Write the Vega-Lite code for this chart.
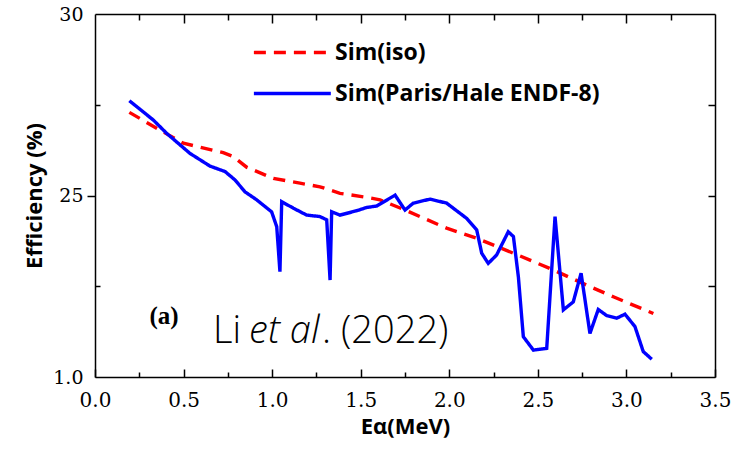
{
  "$schema": "https://vega.github.io/schema/vega-lite/v6.json",
  "autosize": "none",
  "width": 620,
  "height": 363,
  "padding": {"left": 95, "top": 14, "right": 35, "bottom": 75},
  "background": "white",
  "config": {
    "view": {"stroke": null},
    "axis": {"grid": false, "domainColor": "black", "domainWidth": 1.5, "tickColor": "black", "tickWidth": 1.5, "labelColor": "black", "titleColor": "black"}
  },
  "datasets": {
    "lines": [
      {"E": 0.194, "eff": 27.29, "series": "Sim(iso)"},
      {"E": 0.367, "eff": 26.80, "series": "Sim(iso)"},
      {"E": 0.499, "eff": 26.44, "series": "Sim(iso)"},
      {"E": 0.724, "eff": 26.18, "series": "Sim(iso)"},
      {"E": 0.781, "eff": 26.07, "series": "Sim(iso)"},
      {"E": 0.856, "eff": 25.78, "series": "Sim(iso)"},
      {"E": 1.007, "eff": 25.47, "series": "Sim(iso)"},
      {"E": 1.157, "eff": 25.34, "series": "Sim(iso)"},
      {"E": 1.27, "eff": 25.24, "series": "Sim(iso)"},
      {"E": 1.383, "eff": 25.06, "series": "Sim(iso)"},
      {"E": 1.534, "eff": 24.95, "series": "Sim(iso)"},
      {"E": 1.609, "eff": 24.88, "series": "Sim(iso)"},
      {"E": 1.75, "eff": 24.60, "series": "Sim(iso)"},
      {"E": 1.985, "eff": 24.10, "series": "Sim(iso)"},
      {"E": 2.155, "eff": 23.82, "series": "Sim(iso)"},
      {"E": 2.362, "eff": 23.41, "series": "Sim(iso)"},
      {"E": 2.587, "eff": 22.95, "series": "Sim(iso)"},
      {"E": 2.776, "eff": 22.53, "series": "Sim(iso)"},
      {"E": 2.926, "eff": 22.21, "series": "Sim(iso)"},
      {"E": 3.152, "eff": 21.75, "series": "Sim(iso)"},
      {"E": 0.194, "eff": 27.61, "series": "Sim(Paris/Hale ENDF-8)"},
      {"E": 0.329, "eff": 27.08, "series": "Sim(Paris/Hale ENDF-8)"},
      {"E": 0.405, "eff": 26.71, "series": "Sim(Paris/Hale ENDF-8)"},
      {"E": 0.536, "eff": 26.16, "series": "Sim(Paris/Hale ENDF-8)"},
      {"E": 0.649, "eff": 25.81, "series": "Sim(Paris/Hale ENDF-8)"},
      {"E": 0.734, "eff": 25.66, "series": "Sim(Paris/Hale ENDF-8)"},
      {"E": 0.790, "eff": 25.43, "series": "Sim(Paris/Hale ENDF-8)"},
      {"E": 0.847, "eff": 25.10, "series": "Sim(Paris/Hale ENDF-8)"},
      {"E": 0.913, "eff": 24.88, "series": "Sim(Paris/Hale ENDF-8)"},
      {"E": 0.997, "eff": 24.55, "series": "Sim(Paris/Hale ENDF-8)"},
      {"E": 1.026, "eff": 24.14, "series": "Sim(Paris/Hale ENDF-8)"},
      {"E": 1.044, "eff": 22.90, "series": "Sim(Paris/Hale ENDF-8)"},
      {"E": 1.054, "eff": 24.83, "series": "Sim(Paris/Hale ENDF-8)"},
      {"E": 1.12, "eff": 24.65, "series": "Sim(Paris/Hale ENDF-8)"},
      {"E": 1.195, "eff": 24.46, "series": "Sim(Paris/Hale ENDF-8)"},
      {"E": 1.27, "eff": 24.42, "series": "Sim(Paris/Hale ENDF-8)"},
      {"E": 1.308, "eff": 24.33, "series": "Sim(Paris/Hale ENDF-8)"},
      {"E": 1.327, "eff": 22.67, "series": "Sim(Paris/Hale ENDF-8)"},
      {"E": 1.336, "eff": 24.55, "series": "Sim(Paris/Hale ENDF-8)"},
      {"E": 1.383, "eff": 24.46, "series": "Sim(Paris/Hale ENDF-8)"},
      {"E": 1.477, "eff": 24.58, "series": "Sim(Paris/Hale ENDF-8)"},
      {"E": 1.534, "eff": 24.67, "series": "Sim(Paris/Hale ENDF-8)"},
      {"E": 1.59, "eff": 24.71, "series": "Sim(Paris/Hale ENDF-8)"},
      {"E": 1.694, "eff": 25.01, "series": "Sim(Paris/Hale ENDF-8)"},
      {"E": 1.75, "eff": 24.60, "series": "Sim(Paris/Hale ENDF-8)"},
      {"E": 1.797, "eff": 24.79, "series": "Sim(Paris/Hale ENDF-8)"},
      {"E": 1.891, "eff": 24.90, "series": "Sim(Paris/Hale ENDF-8)"},
      {"E": 1.985, "eff": 24.79, "series": "Sim(Paris/Hale ENDF-8)"},
      {"E": 2.098, "eff": 24.37, "series": "Sim(Paris/Hale ENDF-8)"},
      {"E": 2.155, "eff": 24.05, "series": "Sim(Paris/Hale ENDF-8)"},
      {"E": 2.183, "eff": 23.41, "series": "Sim(Paris/Hale ENDF-8)"},
      {"E": 2.220, "eff": 23.13, "series": "Sim(Paris/Hale ENDF-8)"},
      {"E": 2.267, "eff": 23.36, "series": "Sim(Paris/Hale ENDF-8)"},
      {"E": 2.333, "eff": 24.00, "series": "Sim(Paris/Hale ENDF-8)"},
      {"E": 2.362, "eff": 23.87, "series": "Sim(Paris/Hale ENDF-8)"},
      {"E": 2.39, "eff": 22.76, "series": "Sim(Paris/Hale ENDF-8)"},
      {"E": 2.418, "eff": 21.11, "series": "Sim(Paris/Hale ENDF-8)"},
      {"E": 2.475, "eff": 20.74, "series": "Sim(Paris/Hale ENDF-8)"},
      {"E": 2.55, "eff": 20.79, "series": "Sim(Paris/Hale ENDF-8)"},
      {"E": 2.597, "eff": 24.42, "series": "Sim(Paris/Hale ENDF-8)"},
      {"E": 2.644, "eff": 21.85, "series": "Sim(Paris/Hale ENDF-8)"},
      {"E": 2.70, "eff": 22.07, "series": "Sim(Paris/Hale ENDF-8)"},
      {"E": 2.744, "eff": 22.86, "series": "Sim(Paris/Hale ENDF-8)"},
      {"E": 2.794, "eff": 21.20, "series": "Sim(Paris/Hale ENDF-8)"},
      {"E": 2.841, "eff": 21.86, "series": "Sim(Paris/Hale ENDF-8)"},
      {"E": 2.889, "eff": 21.69, "series": "Sim(Paris/Hale ENDF-8)"},
      {"E": 2.945, "eff": 21.62, "series": "Sim(Paris/Hale ENDF-8)"},
      {"E": 2.992, "eff": 21.73, "series": "Sim(Paris/Hale ENDF-8)"},
      {"E": 3.048, "eff": 21.39, "series": "Sim(Paris/Hale ENDF-8)"},
      {"E": 3.095, "eff": 20.70, "series": "Sim(Paris/Hale ENDF-8)"},
      {"E": 3.143, "eff": 20.49, "series": "Sim(Paris/Hale ENDF-8)"}
    ]
  },
  "data": {"name": "lines"},
  "resolve": {"axis": {"x": "independent", "y": "independent"}},
  "layer": [
    {
      "mark": {"type": "line", "strokeWidth": 3.4},
      "encoding": {
        "x": {"field": "E", "type": "quantitative",
          "scale": {"domain": [0, 3.5], "nice": false, "zero": false},
          "axis": {"orient": "bottom", "values": [0, 0.5, 1, 1.5, 2, 2.5, 3, 3.5], "format": ".1f", "tickSize": -8, "labelPadding": 21,
            "labelFont": "DejaVu Serif", "labelFontSize": 20, "labelFlush": false,
            "title": "Eα(MeV)", "titleFont": "Open Sans", "titleFontSize": 22, "titleFontWeight": "bold", "titlePadding": 6}},
        "y": {"field": "eff", "type": "quantitative",
          "scale": {"domain": [20, 30], "nice": false, "zero": false},
          "axis": {"orient": "left", "values": [20, 25, 30], "labelExpr": "datum.value == 20 ? '1.0' : datum.label",
            "tickSize": 8, "tickColor": {"condition": {"test": "datum.value == 25", "value": "black"}, "value": "transparent"},
            "labelPadding": 4, "labelFont": "DejaVu Serif", "labelFontSize": 19, "labelFlush": false,
            "title": "Efficiency (%)", "titleFont": "Open Sans", "titleFontSize": 22, "titleFontWeight": "bold", "titlePadding": 6}},
        "color": {"field": "series", "type": "nominal",
          "scale": {"domain": ["Sim(iso)", "Sim(Paris/Hale ENDF-8)"], "range": ["#ff0000", "#0000ff"]},
          "legend": {"title": null, "orient": "none", "legendX": 157, "legendY": 27, "symbolType": "M-1,0H7", "symbolSize": 370,
            "symbolStrokeWidth": 3.4, "labelFont": "Open Sans", "labelFontWeight": "bold", "labelFontSize": 23, "labelOffset": 60,
            "rowPadding": 17, "labelLimit": 500, "labelColor": "black"}},
        "strokeDash": {"field": "series", "type": "nominal",
          "scale": {"domain": ["Sim(iso)", "Sim(Paris/Hale ENDF-8)"], "range": [[12, 8], [1, 0]]},
          "legend": {"title": null, "orient": "none", "legendX": 157, "legendY": 27, "symbolType": "M-1,0H7", "symbolSize": 370,
            "symbolStrokeWidth": 3.4, "labelFont": "Open Sans", "labelFontWeight": "bold", "labelFontSize": 23, "labelOffset": 60,
            "rowPadding": 17, "labelLimit": 500, "labelColor": "black"}}
      }
    },
    {
      "mark": {"type": "line", "opacity": 0},
      "encoding": {
        "x": {"field": "E", "type": "quantitative",
          "axis": {"orient": "top", "values": [0.5, 1, 1.5, 2, 2.5, 3], "tickSize": -9, "labels": false, "title": null}},
        "y": {"field": "eff", "type": "quantitative",
          "axis": {"orient": "right", "values": [22.5, 25, 27.5], "tickSize": -7, "labels": false, "title": null}},
        "detail": {"field": "series"}
      }
    },
    {
      "mark": {"type": "line", "opacity": 0},
      "encoding": {
        "x": {"field": "E", "type": "quantitative",
          "axis": {"orient": "bottom", "values": [0.25, 0.75, 1.25, 1.75, 2.25, 2.75, 3.25], "tickSize": -5, "labels": false, "domain": false, "title": null}},
        "y": {"field": "eff", "type": "quantitative",
          "axis": {"orient": "left", "values": [22.5, 27.5], "tickSize": -5, "labels": false, "domain": false, "title": null}},
        "detail": {"field": "series"}
      }
    },
    {
      "mark": {"type": "line", "opacity": 0},
      "encoding": {
        "x": {"field": "E", "type": "quantitative",
          "axis": {"orient": "top", "values": [0.25, 0.75, 1.25, 1.75, 2.25, 2.75, 3.25], "tickSize": -6, "labels": false, "domain": false, "title": null}},
        "y": {"field": "eff", "type": "quantitative", "axis": null},
        "detail": {"field": "series"}
      }
    },
    {
      "data": {"values": [{}]},
      "mark": {"type": "text", "text": "(a)", "font": "Liberation Serif", "fontWeight": "bold", "fontSize": 25, "align": "center", "baseline": "middle", "color": "black"},
      "encoding": {"x": {"datum": 0.39, "type": "quantitative", "axis": null}, "y": {"datum": 21.68, "type": "quantitative", "axis": null}}
    },
    {
      "data": {"values": [{}]},
      "mark": {"type": "text", "text": "Li", "font": "Open Sans", "fontWeight": 300, "fontSize": 38, "align": "left", "baseline": "alphabetic", "color": "black"},
      "encoding": {"x": {"datum": 0.666, "type": "quantitative", "axis": null}, "y": {"datum": 20.94, "type": "quantitative", "axis": null}}
    },
    {
      "data": {"values": [{}]},
      "mark": {"type": "text", "text": "et al", "font": "Open Sans", "fontWeight": 300, "fontStyle": "italic", "fontSize": 38, "align": "left", "baseline": "alphabetic", "color": "black"},
      "encoding": {"x": {"datum": 0.87, "type": "quantitative", "axis": null}, "y": {"datum": 20.94, "type": "quantitative", "axis": null}}
    },
    {
      "data": {"values": [{}]},
      "mark": {"type": "text", "text": ". (2022)", "font": "Open Sans", "fontWeight": 300, "fontSize": 38, "align": "left", "baseline": "alphabetic", "color": "black"},
      "encoding": {"x": {"datum": 1.282, "type": "quantitative", "axis": null}, "y": {"datum": 20.94, "type": "quantitative", "axis": null}}
    }
  ]
}
